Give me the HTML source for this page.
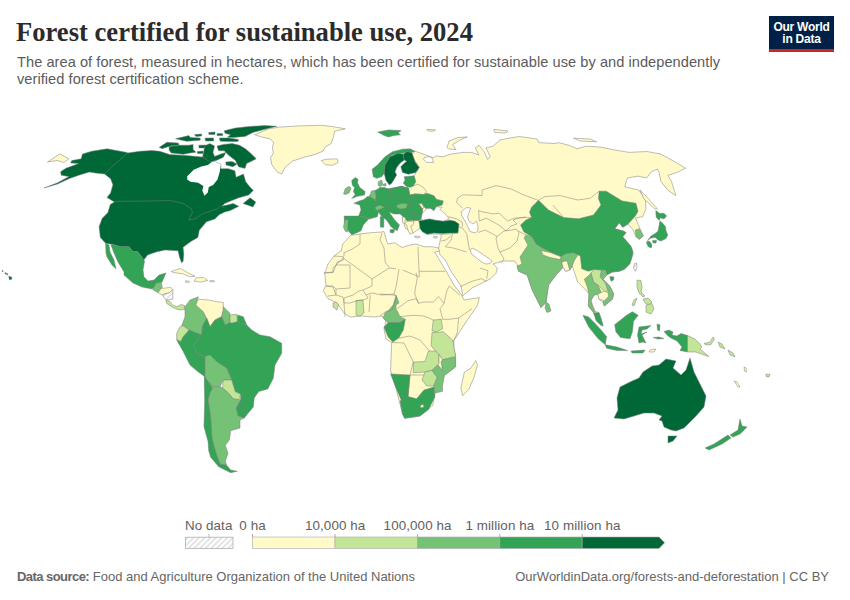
<!DOCTYPE html>
<html><head><meta charset="utf-8">
<style>
html,body{margin:0;padding:0;background:#fff;}
body{width:850px;height:600px;position:relative;overflow:hidden;font-family:"Liberation Sans",sans-serif;}
.t{position:absolute;white-space:nowrap;}
#title{left:16px;top:16.5px;font-family:"Liberation Serif",serif;font-weight:bold;font-size:26.6px;color:#2b2b2b;}
#sub{left:17px;top:53.8px;font-size:14.6px;letter-spacing:0.05px;line-height:17.6px;color:#5b5b5b;}
#logo{position:absolute;left:769px;top:16px;width:65px;height:36px;background:#002147;}
#logo .bar{position:absolute;left:0;bottom:0;width:65px;height:3px;background:#ce261e;}
#logo .lt{position:absolute;left:0;top:5px;width:65px;text-align:center;color:#fff;font-size:12px;line-height:12.3px;font-weight:bold;letter-spacing:-0.25px;}
#src{left:17px;top:568.5px;font-size:13px;color:#666;}
#src b{color:#666;letter-spacing:-0.55px;}
#url{right:21px;top:568.5px;font-size:13px;color:#666;}
.lg{position:absolute;font-size:13.4px;letter-spacing:0.1px;color:#616161;white-space:nowrap;transform:translateX(-50%);}
</style></head>
<body>
<div class="t" id="title">Forest certified for sustainable use, 2024</div>
<div class="t" id="sub">The area of forest, measured in hectares, which has been certified for sustainable use by and independently<br>verified forest certification scheme.</div>
<div id="logo"><div class="lt">Our World<br>in Data</div><div class="bar"></div></div>
<svg id="map" width="850" height="600" style="position:absolute;left:0;top:0" viewBox="0 0 850 600">
<g id="land" stroke="#7d7d7d" stroke-width="0.5" stroke-linejoin="round">
<path fill="#006837" d="M44 188 57.6 184 69.4 178.6 78.8 175.2 89.4 172 95.3 173 104.7 174.1 110.6 178.8 112.9 184.7 110.6 192.9 107 197.4 114.4 202 110.3 204.4 107.9 212.6 102.1 218.5 99.1 226.8 100.3 237.4 105.6 243.2 112.6 244.4 120.9 246.8 129.1 246.8 132.6 251.5 137.4 251.5 142.1 257.4 144.4 262.1 143.8 260 147.5 255 156.2 251.9 165 250 178.1 250.8 179.5 257.1 181.6 262.8 183.1 261.4 183.8 254.3 183.1 247.2 190.8 241.6 197.9 237.4 199.3 230.3 206.4 221.8 214.8 219 219.1 214.8 224.7 212 230.4 210.5 238.8 206.3 233.2 203.5 227.5 204.9 222 206 224.7 203.5 231.8 200.6 238.8 197.8 248.7 195 253.3 190.4 250 187.1 245.7 181.7 243.5 174.1 236 177.3 234.9 170.8 228.4 168.7 220.8 168.7 220.8 164.3 213.2 161.1 210.8 161.2 202.6 157.1 186.1 155.4 169.7 154.6 159.8 151.3 151.5 150.5 140 151.3 127.5 153 127.1 152.4 116.5 150.6 107.1 148.8 91.8 151.2 82.4 154.1 81.2 158.8 71.8 160.6 70.6 162.9 78.8 163.5 65.9 168.2 60.6 171.8 61.2 175.3 69 176.6 57.6 182.8Z"/>
<path fill="#ffffff" stroke="none" d="M187.2 176.3 193.7 169.8 201.3 166.5 207.8 164.9 213.2 161.1 220.8 164.3 219.7 171.9 217.5 179.5 213.2 184.9 208.8 187.1 207.8 192.5 204.5 195.8 202.3 190.4 203.4 186 198 182.8 190.4 181.7 187.2 179.5Z"/>
<path fill="#006837" d="M243.1 203.5 250.1 197.8 255.8 202.1 253 207 247.3 204.9Z"/>
<path fill="#006837" d="M159.2 147.3 167 142.3 178.3 143.1 179 145.2 170.5 145.9 162.1 148.7Z"/>
<path fill="#006837" d="M169.1 146.6 179.7 145.2 188.9 145.2 193.1 144.5 193.1 149.4 195.9 152.2 190.3 152.9 183.2 154.3 171.2 152.9 169.1 150.1Z"/>
<path fill="#006837" d="M175.5 138.8 188.9 135.6 190.3 137.4 200.2 138.1 200.2 140.2 186.8 141.3 181.8 140.2Z"/>
<path fill="#006837" d="M194.5 134.6 201.6 134 201.6 136 196 136.5Z"/>
<path fill="#006837" d="M198.8 145.2 208.6 145 208.6 148 199 148Z"/>
<path fill="#006837" d="M197.3 151.5 203 151 203 153.6 197.5 153.6Z"/>
<path fill="#006837" d="M205.1 138.1 213.6 138 213.6 141 205.5 141Z"/>
<path fill="#006837" d="M208.6 132.5 215 132 215 134.6 209 134.6Z"/>
<path fill="#006837" d="M217 133.6 222.6 133.6 222.6 135.6 217 135.6Z"/>
<path fill="#006837" d="M224.2 130.8 235.4 128 249.8 126.4 265 125.6 276.9 126.3 265 129.2 253 132.4 245 136.4 233 137.6 227.4 137.2 230.6 134.8 225 133.2Z"/>
<path fill="#006837" d="M219.4 138 229 138 238.6 139.6 237.8 141.6 229 141.6 220.2 141.2Z"/>
<path fill="#006837" d="M217 146 223.4 144.4 232.2 143.6 239.4 145.2 245 148.4 249.8 152.4 256.2 158.8 249.8 162 246.6 163.6 245 168.4 238.6 166.8 235.4 160.4 229 155.6 224.2 150.8 218.6 150.8Z"/>
<path fill="#006837" d="M204 150 205 146 209.8 143.6 214.6 146 213 152.4 214.6 156.4 221 154 225.8 152.4 223.4 157.2 216.2 160.4 209.8 162 202.6 157.1Z"/>
<path fill="#006837" d="M225.8 162 232 161.5 237 164 233 166.8 226 165Z"/>
<path fill="#fffac7" d="M254.7 134.7 261.8 131.8 268.8 128.8 279.4 127.1 299.4 125.9 320.6 125.3 332.4 126.5 345.3 128.8 334.7 131.2 333.5 136.5 331.2 143.5 325.3 147.1 322.9 151.2 315.9 154.1 302.9 157.6 292.4 161.2 285.3 167.1 281.8 174.1 277.1 171.8 271.8 164.7 270.6 157.6 273.5 152.9 272.4 148.2 273.5 142.4 270 138.8 261.8 137.1Z"/>
<path fill="#fffac7" d="M321.2 160.6 325.3 159.4 337.1 158.8 338.2 162.4 332.4 165.3 325.3 164.7Z"/>
<path fill="#fffac7" d="M47.5 162 60 153.8 68.8 158.8 63.8 162.5 57.5 160.5Z"/>
<path fill="#33a356" d="M105.6 243.2 109 245 110 252 114 260 116 269 112 265 107 257 106 253Z"/>
<path fill="#33a356" d="M111 245 112.6 244.4 120.9 246.8 129.1 246.8 132.6 251.5 137.4 251.5 142.1 257.4 144.4 262.1 143 270 144 277 148 281 154 280 159 275 166 273 162 282 156 286 152 289 142 287 133 283 124 275 124 272 118 262 114 253Z"/>
<path fill="#75c277" d="M152.7 289.5 155.9 283.2 161.2 282.1 162.2 287.4 158 292.7Z"/>
<path fill="#fffac7" d="M158 292.7 161.2 288.5 170.7 287.4 172.8 289.5 169.7 292.7 162.2 294.8Z"/>
<path fill="url(#hatch)" d="M162.2 294.8 169.7 292.7 172.8 289.5 172.8 299.1 166 300.1Z"/>
<path fill="#c2e597" d="M166 300.1 169.7 301.2 172.8 305.4 177.1 306.5 181.3 304.4 184.5 305.4 184.5 309.7 178.1 309.7 172.8 307.6 166.5 303.3Z"/>
<path fill="#fffac7" d="M171.3 271.5 180.3 268.4 187.7 272.6 195.1 276.3 189.8 276.8 182.4 273.7 173.9 272.6Z"/>
<path fill="#fffac7" d="M196.1 277.9 203.6 277.4 207.8 280.5 200.4 282.1 194 281.1Z"/>
<path fill="#fffac7" d="M185 281 188 280.8 189.8 282.1 186 282.5Z"/>
<path fill="#fffac7" d="M209.9 280.5 214.2 280.8 214.2 281.8 210 281.8Z"/>
<path fill="#006837" d="M8.7 276.3 11.5 277 12 279 9.5 280Z"/>
<path fill="#006837" d="M5 272.5 8 274 7.5 275 5 273.5Z"/>
<path fill="#006837" d="M2 270.6 3.2 270.8 3 271.6 2 271.4Z"/>
<path fill="#75c277" d="M185 306.7 190 300 198.3 296.7 195.8 305 203.3 311.7 206.7 318.3 202.5 325.8 201.7 335 195 332.5 189.2 330 181.7 325.8 185 316.7Z"/>
<path fill="#fffac7" d="M195.8 305 198.3 299.2 208.3 300 216.7 301.7 223.3 302.5 223.3 310 221.7 316.7 215 320 210 326.7 206.7 318.3 203.3 311.7Z"/>
<path fill="#75c277" d="M223.3 306.7 230 313.3 230 322.5 225 325 221.7 316.7 223.3 310Z"/>
<path fill="#c2e597" d="M230 315 236.7 314.2 237.5 321.7 231.7 323.3 230 322.5Z"/>
<path fill="#33a356" d="M237.5 315 243.3 316.7 246.7 325 240 323.3 237.5 321.7Z"/>
<path fill="#c2e597" d="M176.7 333.3 180 326.7 183.3 325.8 189.2 330 183.3 336.7 180.8 341.7 176.7 340Z"/>
<path fill="#33a356" d="M176.7 340 180.8 341.7 183.3 336.7 189.2 330 195 332.5 201.7 335 193.3 345 196.7 353.3 205 356.7 205 378.3 204.3 376.2 199 372.6 190 365 183.3 351.7Z"/>
<path fill="#33a356" d="M201.7 335 202.5 325.8 206.7 318.3 210 326.7 215 320 221.7 316.7 225 325 230 322.5 231.7 323.3 237.5 321.7 240 323.3 246.7 325 251.7 330 260 335 270 336.7 281.7 343.3 281.7 353.3 275 365 273.3 378.3 267.8 388.9 258.7 391.6 254.2 398 253.3 407 248.7 412.5 244.2 418 236 408 240.6 399.8 240.6 394.3 235.1 391.6 231.7 380 226.7 368.3 216.7 361.7 210 355 205 356.7 196.7 353.3 193.3 345Z"/>
<path fill="#75c277" d="M205 356.7 210 355 216.7 361.7 226.7 368.3 231.7 380 223.3 380 220 386.7 213.3 386.7 205 378.3Z"/>
<path fill="#c2e597" d="M223.3 380 231.7 380 235.1 391.6 240.6 394.3 238.8 399.8 233.3 398.9 227.9 392.5 222.5 388Z"/>
<path fill="#33a356" d="M236 408 240.6 404 246 410 244.2 418 238 416Z"/>
<path fill="#75c277" d="M206 379 213.3 386.7 220 386.7 222.5 388 227.9 392.5 233.3 398.9 240.6 399.8 236 408 238 416 244.2 418 240 420 240 428 230.7 430.7 229.3 440 225.3 445.3 228 453.3 225.3 461.3 226.7 465.3 220 464 216 453.3 212 438.7 210.7 417.3 208 400 209.8 393Z"/>
<path fill="#33a356" d="M204.3 376.2 208 381.7 212.5 388 209.8 393 208 400 210.7 417.3 212 438.7 216 453.3 220 464 226.7 465.3 230.7 470 237.3 471.3 230.7 472.7 218.7 466.7 210.7 457.3 208.7 450.7 208 441.3 204 426.7 204.7 400 204.3 385Z"/>
<path fill="#fffac7" d="M350.7 235.3 360 234 370.7 232.7 381.3 232 384 231.5 386.7 241.3 388 244 394.7 242.7 402 247.5 408 245.5 416 244 424 246.7 432 246.7 438.7 248 440 251 434.7 252 438.7 258.7 446.7 272 453.3 284 461.3 294.7 464 300 479.3 297.6 477.5 305.5 468.8 317.8 459.1 332.6 453.9 340.5 453.9 347.5 455.6 356.3 455.6 366.8 444.3 375.5 441.5 385.8 435 392.3 432.8 405.3 419.8 416.1 404.7 418.3 402.5 414 396 388 390.6 370.6 391.7 342.5 386 339 384 329 386 321 382 316 374 317 362 316 350 317 344 313 337 303 328 298.7 323.3 290.7 326 285.3 324.7 273.3 328 264 334 256 341.3 250.7 342.7 244Z"/>
<path fill="#c2e597" d="M356 300.5 363 300 364 313 360 316 356 315Z"/>
<path fill="#c2e597" d="M333 303 336 302 338.5 305 337 310 333 307Z"/>
<path fill="#75c277" d="M396 295.3 399 303 396 305 396 308.7 400 316.7 405.3 319.3 400 322.7 388 322.7 383 318 385 313 389 310 393.3 304.7Z"/>
<path fill="#33a356" d="M384 327.3 388 322.7 400 322.7 405.3 319.3 403.3 330 398.7 338 392.7 342 388 336.7Z"/>
<path fill="#c2e597" d="M433.3 320 441.3 319.3 442.7 328.7 436 332 432 330.7Z"/>
<path fill="#c2e597" d="M432 332.6 443.4 331.8 453 340.5 453.9 347.5 455.6 356.3 442.5 359.8 435.5 351 431.1 345.8Z"/>
<path fill="#c2e597" d="M413.3 362 425 361.5 428.5 351 435.5 351 439 354.5 439 363.3 432 370.3 425 372 413.3 372.8Z"/>
<path fill="#c2e597" d="M425 372 432 370.3 437.3 377.3 433.8 386 426.8 386 422 380Z"/>
<path fill="#75c277" d="M442.5 359.8 455.6 357.1 455.6 366.8 444.3 375.5 442.5 386 442.5 391.3 435.5 393 433.8 386 437.3 377.3 432 370.3 438.1 365 442.5 370.3 441 362Z"/>
<path fill="#fffac7" d="M439 354.5 442.5 359.8 441 362 442.5 370.3 438.1 365 439 363.3Z"/>
<path fill="#33a356" d="M390.6 373.9 410 375 408 396.6 402.5 403 396 388Z"/>
<path fill="#33a356" d="M400 401 408 396.6 416.6 398.8 424 390 434 387 435 396.6 428.5 409.6 419.8 416.1 404.7 418.3 402.5 414Z"/>
<path fill="#fffac7" d="M420 406 423 404 424 407 421 408Z"/>
<path fill="#fffac7" d="M475.8 360.6 477.5 365 474 377.3 468.8 389.5 462.6 395.6 460.9 387.8 464.4 372 470.5 368.5Z"/>
<path fill="#fffac7" d="M415 151.2 425.9 155 433 157.6 436.5 155.9 442.6 156.8 450.6 154.1 463 152.4 471.8 152.4 478.8 155 475.3 147.9 478.8 145.3 484.1 151.5 487.6 159.4 490.3 156.8 485.9 147.9 493 146.2 500 140 508.8 138.2 519.4 136.5 537 139.1 538.8 142.6 555 143.5 558.5 142.6 569.1 145.3 577.1 148.8 585.9 146.2 600.9 147.1 613.2 149.7 629.1 152.4 646.8 151.5 660.9 154.1 676.8 162.9 685.6 168.2 676.8 172.6 667.9 175.3 671.5 181.5 675.9 195.6 667.9 190.3 660.9 181.5 659.1 172.6 657.3 169.1 651.2 171.8 646.8 177.9 637.9 176.2 627.4 177.9 624.7 186.8 638.7 190 645.3 199.3 646 208.7 642.7 216.7 635.3 218 643.3 236 639.3 239.3 636 236.7 632.7 229.3 628 224 622.7 227.3 619.3 222.7 614.7 228.7 624 231.3 626 232.7 622.7 236.7 630.7 246 632.3 250 633 253 631.7 258 629.7 264 624.3 269.3 619 271.3 612.3 272 607 274.7 603 279.3 609.7 286 613.7 294 612.3 299.3 604.3 306 603 302 599 299.3 597.7 294 593.7 295.3 591 300.7 595 311.3 599 312.7 601.7 320.7 603 326 600.3 324.7 596.3 320.7 593.7 312.7 588.3 306 589 294 585.7 290 581.7 286 577.7 282 575 274 572.3 266 569.7 270 565.7 271.3 563 267.3 556 275 548.5 285 546 302.5 541 307.5 532.2 290 527.2 275 518.5 271.2 517.2 265 514.5 261 502.5 261 497.3 262.7 493 264 497.3 268 496 273.3 490.7 278.7 482.7 282.7 472 288 462.7 296 461.3 286.7 456 278.7 450.7 270.7 445.3 260 440 254.7 438.7 248 440 241.3 441.3 236 440 234 427 234.2 420 228.3 413 233 405 228 403 218 410 195 414 175.8 419.2 167.5 415 160.8 411.7 155Z"/>
<path fill="#ffffff" d="M470 250 472 248 477.3 250.5 483 254.5 489 258.5 492 261 490 263.5 486 264 481 261.5 476 257.5 471.5 254Z"/>
<path fill="#ffffff" d="M461 211.8 466.6 207.5 470.8 208.2 469 212.5 467.5 217 469 221 473 224 476.5 221 478 226 477.9 230.8 475.1 232.9 470 231.5 467.5 226 465 221 462 216Z"/>
<path fill="#fffac7" d="M414.7 236 420 236.5 419 238 415 237.5Z"/>
<path fill="#fffac7" d="M433.3 236.7 437.3 236.5 437 238 434 238Z"/>
<path fill="#33a356" d="M369 196 376 190 390 188.5 401 186.3 408.3 188.1 409.5 195 410 199 413 203.8 418.8 203.8 422.3 208.5 422.3 213.2 421.2 219 418.8 220.2 413 220.2 407 221 405 218 400 214 394 214 389 212 384 207 377 206 376 200Z"/>
<path fill="#33a356" d="M372.1 169.2 377.5 165 385 156.7 392.5 151.7 402.5 149.2 410 148.8 415 151.2 411.7 152.5 406.7 151.7 403.3 153.3 400 153.3 392.5 155 390 156.7 385 165 384.2 173.3 381.7 176.7 376.7 178.3 373.3 176.7Z"/>
<path fill="#006837" d="M385 165 390 156.7 398.3 153.3 403.3 154.2 404.2 160 400 163.3 396.7 167.5 395 171.7 396.7 175 394.2 179.2 391.7 183.3 389.2 185 385.8 180 384.2 173.3Z"/>
<path fill="#006837" d="M403.3 154.2 406.7 151.7 411.7 152.5 413.3 156.7 415 161.7 419.2 167.5 415.8 172.5 408.3 174.2 402.5 172.5 400.8 166.7 404.2 163.3 406.7 161.2 404.2 160Z"/>
<path fill="#33a356" d="M404.2 176.7 414.2 175.8 415.8 181.7 412.5 187.5 406.7 186.7 403.3 183.3 405 180Z"/>
<path fill="#fffac7" d="M408.3 188.1 413 186.3 417.7 184 423.5 187.5 426.4 191.6 423.5 194.5 415.3 193.9 409.5 195.1 409.5 191Z"/>
<path fill="#33a356" d="M409.5 195.1 415.3 193.9 423.5 194.5 427 193.3 434 195.7 436.3 199.2 443.3 200.9 442.2 205 436.3 206.8 434 210.8 430.5 208.5 425.8 208.5 422.3 205 418.8 203.8 413 203.8 409.5 201.5 410.1 199.2Z"/>
<path fill="#33a356" d="M390.8 188.7 401.3 186.3 408.3 188.1 409.5 195.1 410.1 199.2 406 199.2 400.2 198 392 194.5Z"/>
<path fill="#33a356" d="M376.2 190.4 379.7 187.5 384.4 187.5 390.2 189.8 391.4 194.5 389 200.3 391.4 203.9 386.7 206.2 378.5 206.8 377.4 205 376.2 200.9 376.2 196.8Z"/>
<path fill="#75c277" d="M378.3 181.7 381.7 180 382.9 185 380 186.7 378 185Z"/>
<path fill="#75c277" d="M383.5 184 386 183.5 386 186 383.5 186Z"/>
<path fill="#75c277" d="M371.5 191 375 190.4 376.2 196.8 375 200.3 369.2 198Z"/>
<path fill="#33a356" d="M354 203.3 359.3 200.9 363.3 199.8 368 196.3 372.1 198 376.2 200.9 377.4 205 375.6 208.5 378.5 212 377.4 216.7 369.2 219 363.3 216.7 358.7 216.1 361 209.7 359.8 205Z"/>
<path fill="#75c277" d="M375 207.4 379.7 205 384.4 207.4 382 209.7 376.8 209.7Z"/>
<path fill="#33a356" d="M344.1 216.1 358.7 216.1 363.3 216.7 368.6 219 363.3 224.9 361 230.7 356.3 233 351.7 234.8 349.3 231.9 344.7 226Z"/>
<path fill="#75c277" d="M344.7 220.2 348.2 219.6 347.6 231.9 345.3 231.3 343.5 227.2Z"/>
<path fill="#33a356" d="M351.7 180.5 355.2 177.6 358.1 179.3 357.5 182.8 359.8 187.5 365.1 191.6 364.5 195.1 357.5 196.3 351.7 198.6 355.2 194.5 353.4 191.6 354.6 187.5 352.3 185.2Z"/>
<path fill="#75c277" d="M343.5 193.9 345.3 188.7 348.8 186.3 351.1 188.1 349.3 192.8 345.8 194.5Z"/>
<path fill="#33a356" d="M377.4 210.3 384.4 207.4 390.2 208.5 389 212 394.9 220.2 399.5 224.9 397.2 230.7 391.4 227.2 386.7 220.2 380.9 215.5Z"/>
<path fill="#33a356" d="M390.2 229.5 394.9 229.5 393.5 233 390 232.5Z"/>
<path fill="#33a356" d="M380.3 216.7 383.8 216.7 383.8 227.2 380.3 227.2Z"/>
<path fill="#75c277" d="M396.7 205 402.5 203.3 407.8 203.8 406 208.5 400.2 209.1 396.7 207.3Z"/>
<path fill="#33a356" d="M408.3 205 413 203.8 418.8 203.8 422.3 208.5 422.3 213.2 418.8 214.3 413 213.2 409.5 209.7Z"/>
<path fill="#33a356" d="M410.7 214.3 418.8 214.3 421.2 219 418.8 220.2 413 220.2 410.7 217.8Z"/>
<path fill="#fffac7" d="M418.8 203.8 422 203.5 424 208 422.3 208.5Z"/>
<path fill="#fffac7" d="M402.5 216.7 405.4 217.8 404.8 223.7 402.5 222.5Z"/>
<path fill="#fffac7" d="M407.2 221.3 414.2 221.3 413 224.8 410.7 226 413 233 410.1 234.2 407.8 229.5 406.6 224.8 404.8 223.7Z"/>
<path fill="#ffffff" d="M422.3 213.2 427 208.5 430.5 208.5 434 210.8 436.3 206.8 442.2 207.3 439.8 209.7 445.7 214.3 449.2 219 443.3 221.3 435.2 220.2 429.3 219 423.5 220.2 421.2 219Z"/>
<path fill="#006837" d="M418.8 220.8 423.5 220.2 429.3 219 435.2 220.2 443.3 221.3 450.3 220.2 455 221.3 459 224 458 233 450.3 233 442.2 233.6 434 233 427 234.2 422.3 231.8 420 228.3 419.4 223.7Z"/>
<path fill="#33a356" d="M377.8 132 388.4 129.9 401.1 130.6 398.2 132.7 400.4 134.8 394 135.5 388.4 136.9 384.1 135.5Z"/>
<path fill="#fffac7" d="M447 147.5 449 141.2 457.5 137.6 467.4 136.9 460.4 139.8 452.6 144.7 456.1 149.6 449 149Z"/>
<path fill="#ffffff" d="M424 157.5 429 156.5 432.1 158.1 433.5 162.4 426.5 162.4 423.6 159.5Z"/>
<path fill="#fffac7" d="M493.8 129.4 508 131 506 133 495 132.5Z"/>
<path fill="#fffac7" d="M573.5 138.2 590 139 596.5 141.8 580 141Z"/>
<path fill="#fffac7" d="M426.8 129.4 435.6 129.8 434 131.2 428 131Z"/>
<path fill="#33a356" d="M520.5 225 526 220 531.7 217.5 529.5 212.2 531.7 207 538.5 200.2 548.5 210 563.5 217.5 578.5 218.8 593.5 215 601 205 598.5 198.8 599.1 191.2 606.2 191.2 622.1 200.9 636 203.3 638 211.3 635.3 216 628 224 622.7 227.3 619.3 222.7 614.7 228.7 624 231.3 626 232.7 622.7 236.7 630.7 246 632.3 250 633 253 631.7 258 629.7 264 624.3 269.3 619 271.3 612.3 272 607 274.7 601.7 270 595 269.3 588.3 271.3 581.7 268.7 580.3 256 573.7 252.7 571 255.3 561 256.2 550 252 542 248 536 244 532 237 524 232Z"/>
<path fill="#75c277" d="M526 235 532 237 536 244 542 248 550 252 561 256.5 561.7 262 563 267.3 556 275 548.5 285 546 302.5 541 307.5 532.2 290 527.2 275 518.5 271.2 517 266 522 264 520 257 528 245 524 238Z"/>
<path fill="#75c277" d="M561 256.5 566 253.5 573.7 252.7 577.7 255.3 574 261 572.3 266 569.7 270 567 260.7 561.7 262Z"/>
<path fill="#fffac7" d="M541 250.5 550 252.5 561 256.8 560 259.5 550 257.5 543 255Z"/>
<path fill="#fffac7" d="M561.7 262 567 260.7 569.7 270 565.7 271.3 563 267.3Z"/>
<path fill="#75c277" d="M546 302.5 549 304 551 311 547 312.5 545 308Z"/>
<path fill="#75c277" d="M584.3 279.3 589.7 274.7 591 272.7 593.7 282 597.7 284.7 601.7 292.7 597.7 294 593.7 295.3 591 300.7 592.3 306 595 311.3 593.7 312.7 588.3 306 589 294 587 286Z"/>
<path fill="#c2e597" d="M591 272.7 595 269.3 601.7 270 600.3 276.7 605.7 283.3 608.3 291.3 604.3 291.3 597.7 284.7 593.7 282Z"/>
<path fill="#75c277" d="M595 269.3 605.7 270 607 274.7 603 279.3 609.7 286 613.7 294 612.3 299.3 604.3 306 603 302 608.3 296.7 608.3 291.3 605.7 283.3 600.3 276.7 601.7 270Z"/>
<path fill="#fffac7" d="M597.7 294 604.3 291.3 608.3 292.7 608.3 296.7 604.3 300.7 599 299.3Z"/>
<path fill="#33a356" d="M593.7 312.7 599 312.7 601.7 320.7 603 326 600.3 324.7 596.3 320.7Z"/>
<path fill="#33a356" d="M582.9 315.3 588.3 316.7 593.7 322 600.6 329.4 606.5 336.5 605.3 344.7 598.2 338.8 588.8 327.1Z"/>
<path fill="#33a356" d="M605.3 344.7 617 347 627.6 350.6 617 350.6 606.5 348.2Z"/>
<path fill="#33a356" d="M614.7 324.7 626.5 315.3 632.4 311.8 638.2 315.3 633.5 321.2 632.4 331.8 630 338.8 620.6 337.6 615.9 331.8Z"/>
<path fill="#33a356" d="M639 327 651 325.5 647 329 642 330 641 334 647 332 642 335 646 343 643 342 639 343 637.5 335Z"/>
<path fill="#33a356" d="M657 324 660 325 659.5 331 657.5 330Z"/>
<path fill="#33a356" d="M653 337.5 659 337 664 338.5 658 339Z"/>
<path fill="#33a356" d="M664 331.5 669 330 673 332 672 335 677 336 681 333.5 687.5 335.5 687.5 352 680 350.5 682 347 677 341 671 338 668 336Z"/>
<path fill="#c2e597" d="M687.5 335.5 695 339 700 344 702 347 700 349 709 356.5 704 355 696 352 687.5 352Z"/>
<path fill="#c2e597" d="M704 343.5 710 342 713 337 714.5 339 711 344.5 706 345Z"/>
<path fill="#c2e597" d="M637 280 641 280.5 642 287 641 292 645 296 643 297 639 293 637 287Z"/>
<path fill="#c2e597" d="M643 299 648 298 652 302 649 305 645 303Z"/>
<path fill="#c2e597" d="M646 305 652 303.5 654 309 651 314 646 312Z"/>
<path fill="#c2e597" d="M634 300 637 298 634 306 632 305Z"/>
<path fill="#c2e597" d="M718 342 722 344 725 349 720 347Z"/>
<path fill="#c2e597" d="M728 350 733 353 735 357 730 355Z"/>
<path fill="#33a356" d="M631 351 645 350 643 353 632 353Z"/>
<path fill="#fffac7" d="M650 350 656 349 654 352 649 352Z"/>
<path fill="url(#hatch)" d="M634.5 263.5 636.5 263 637 267 635.5 271.3 633.5 268Z"/>
<path fill="#33a356" d="M609.7 276.7 613.7 276.7 613.7 280 611 281.3Z"/>
<path fill="#33a356" d="M655.8 210.6 659.5 213.3 664 213.3 666.6 215.9 664 218.9 660.3 217.8 659.1 220.4 656.1 217Z"/>
<path fill="#33a356" d="M659.9 221.1 662.5 223 665.5 226.8 665.9 230.5 667.8 235 666 238.5 661 241 658 240 655 237.3 650.5 238.3 647.5 240.5 651 236 656 233 658 231 659 226Z"/>
<path fill="#33a356" d="M646.4 242 649 241 651 243 652 246 651 248 648 246.5Z"/>
<path fill="#33a356" d="M652.5 240.5 656.5 240.5 656 243 653 243Z"/>
<path fill="#75c277" d="M635.3 230 639.3 228.7 643.3 236 639.3 239.3 636 236.7Z"/>
<path fill="#fffac7" d="M640 190 646 196 657.3 208.7 655 209 644 199Z"/>
<path fill="#006837" d="M614 418 618 410 617 398 620 387 630 382 639 378 643 372 652 366 659 365 666 359 676 361 673 368 681 375 686 370 690 358 694 372 700 384 706 396 704 407 696 416 684 428 676 431 671 430 664 427 662 421 659 420 662 416 654 413 644 413 634 416 624 419Z"/>
<path fill="#006837" d="M668 436 677 436 673 441 668 443Z"/>
<path fill="#33a356" d="M740 419 742 426 747 427 740 434 733 437 730 435 738 430Z"/>
<path fill="#33a356" d="M728 435 731 438 722 444 709 450 705 448 714 444Z"/>
<path fill="#fffac7" d="M734 381 737 382 740 387 738 387Z"/>
<path fill="#fffac7" d="M744 367 746 368 746.5 372 744.5 371Z"/>
<path fill="#c2e597" d="M766 374 770 374.5 769 377 766 376.5Z"/>
<path fill="none" d="M114.4 201.5 171.2 200.6 183.8 203.8 191.2 208.8 192.5 212.5 188.8 220 195 218.8 202.5 213.8 210 211.2 217.5 208.8 220.8 205.5 224 207.7 M127.5 153 105 173 M360 234 360 244 352 249.3 344 252.7 344 256 M334 256 343.3 256.7 343.3 260 337.3 262 333.3 272 324 273 M324 273 333 272.5 333 268 336 265 343.3 258 M343.3 258 372 279 389 268 396 268.7 M382 232.7 380 240 384 248 385.3 262.7 389.3 267.3 M418 246.7 419.3 277.3 M419.3 271.3 445.3 271.3 M402.7 270 418.7 276.7 M336 265 350 265 350 288 336 289 333 286 326 286 M372 279 372 286 363 290 359 291 353 295 344 298 344 303 M363 290 366 295 372 293 382 295 394 294 396 287 399 269 M366 295 368 298 363 300 356 301 350 303 344 303 M336 289 336 295 343 297 344 303 345 317 M326 286 333 287 336 295 328 296 M370 295 370 298 369 312 M394 294 397 297 392 310 385 312 380 316 M416 272.7 417.3 278 415.3 288.7 414.7 294 418.7 303.3 M397.3 308.7 408 300.7 416 298.7 418.7 303.3 M400 316.7 413.3 315.3 424 316 433.3 320 M418.7 303.3 424 302 433.3 302 438.7 296.7 444 303.3 440 308.7 442.7 319.3 M444 303.3 446.7 291.3 449.3 286 460 295.3 M442.7 319.3 449.3 319.3 458.7 318 472 308.7 M458.7 318 457.3 332.7 453.3 342 M396 295.3 380 294 M398.2 338.2 410 336 420 340 429.6 351 M391.7 342.5 404 343 413.3 362 410 375 M408 396.6 410 375 424 375 M445.3 246.7 453.3 248 466.7 252 M460 286.7 472 281.3 481.3 278.7 486.7 281.3 M480 268 488 270.7 486.7 278.7 M441 241 446 240 450.7 236 M457.4 198.4 462.4 194.8 482.1 195.5 482.1 189.9 496.2 185.6 511.8 189.2 521.7 194.1 538.6 200.5 M457.4 198.4 456.7 202.6 462.4 208.2 M478.6 210.4 482.1 211.8 493.4 213.9 499.1 213.2 507.5 221 514.6 218.1 527.3 217.4 531.7 217.5 M478.6 210.4 479.3 221 486.4 218.1 499.1 225.2 506 231 511 226 517 224 513 220 519 218 526 217 M478 232.5 485 230 495 235 497 236.5 M497 236.5 504 231 512 230 516 229 519 233 517 241 510 248 500 252 498 248 496 239 497 236.5 M500 252 504 259 501 263 M518 231 526 235 M448.2 216.7 456.7 218.8 462.4 222.4 462.4 226.6 M458.1 226.6 462.4 228 466.6 233.6 469.5 250 M441.2 234.4 452.5 233.6 458 233 M452.5 233.6 451.1 240 445.3 246.7 M538.5 200.2 545 196.5 560 195.6 577.9 200 590.3 198.2 599.1 191.2 M553 205 563.5 217.5"/>
</g>
<!-- legend -->
<defs><pattern id="hatch" width="4" height="4" patternUnits="userSpaceOnUse" patternTransform="rotate(45)"><rect width="4" height="4" fill="#fff"/><line x1="1" y1="0" x2="1" y2="4" stroke="#dcdcdc" stroke-width="1.5"/></pattern></defs>
<rect x="185.5" y="537.2" width="47.5" height="11.3" fill="url(#hatch)" stroke="#b0b0b0" stroke-width="0.8"/>
<line x1="209" y1="534" x2="209" y2="537" stroke="#aaa" stroke-width="0.8"/>
<rect x="252.5" y="537" width="82.5" height="11.5" fill="#fffac7" stroke="#aaa" stroke-width="0.6"/>
<rect x="335" y="537" width="82.4" height="11.5" fill="#c2e597" stroke="#aaa" stroke-width="0.6"/>
<rect x="417.4" y="537" width="82.4" height="11.5" fill="#75c277" stroke="#aaa" stroke-width="0.6"/>
<rect x="499.8" y="537" width="82.4" height="11.5" fill="#33a356" stroke="#aaa" stroke-width="0.6"/>
<path d="M582.2 537 H659 L664.6 542.75 L659 548.5 H582.2 Z" fill="#006837" stroke="#aaa" stroke-width="0.6"/>
<g stroke="#999" stroke-width="0.8"><line x1="252.5" y1="534" x2="252.5" y2="537"/><line x1="335" y1="534" x2="335" y2="537"/><line x1="417.4" y1="534" x2="417.4" y2="537"/><line x1="499.8" y1="534" x2="499.8" y2="537"/><line x1="582.2" y1="534" x2="582.2" y2="537"/></g>
</svg>
<div class="lg" style="left:208.7px;top:517.5px">No data</div>
<div class="lg" style="left:252.5px;top:517.5px">0 ha</div>
<div class="lg" style="left:335.2px;top:517.5px">10,000 ha</div>
<div class="lg" style="left:417.6px;top:517.5px">100,000 ha</div>
<div class="lg" style="left:499.9px;top:517.5px">1 million ha</div>
<div class="lg" style="left:582.3px;top:517.5px">10 million ha</div>
<div class="t" id="src"><b>Data source:</b> Food and Agriculture Organization of the United Nations</div>
<div class="t" id="url">OurWorldinData.org/forests-and-deforestation | CC BY</div>
</body></html>
